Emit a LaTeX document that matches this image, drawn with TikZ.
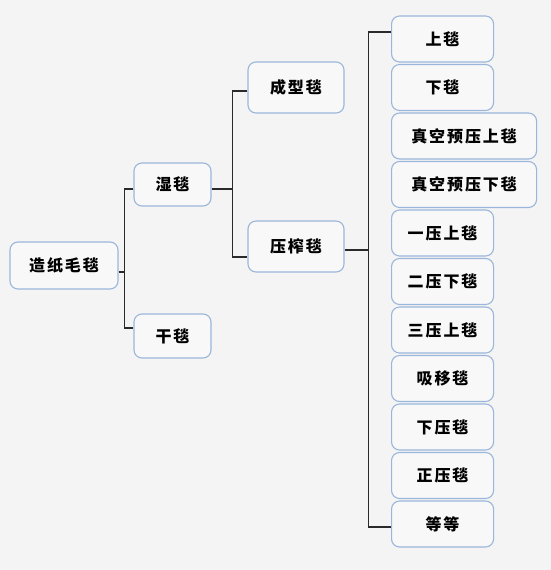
\documentclass[tikz,border=0pt]{standalone}
\usepackage{fontspec}
\newfontfamily\cjk[LetterSpace=12]{Noto Sans CJK SC}
\begin{document}
\begin{tikzpicture}[x=1pt,y=-1pt,
  box/.style={draw=boxline,fill=boxfill,line width=1.1pt,rounded corners=8pt,
    inner sep=0pt,font=\cjk\bfseries\fontsize{16pt}{18pt}\selectfont,text=black},
  conn/.style={draw=connline,line width=1.1pt}]
\definecolor{boxline}{HTML}{9AB7DB}
\definecolor{boxfill}{HTML}{F8F8F8}
\definecolor{connline}{HTML}{2A2A2A}
\definecolor{bgc}{HTML}{F4F4F4}
\fill[bgc] (0,0) rectangle (551,570);
\useasboundingbox (0,0) rectangle (551,570);
% level 0
\node[box,minimum width=108pt,minimum height=47pt] (root) at (64,265.5) {造纸毛毯};
% level 1
\node[box,minimum width=77pt,minimum height=43pt] (shi) at (172.5,184.5) {湿毯};
\node[box,minimum width=77pt,minimum height=44pt] (gan) at (172.5,336) {干毯};
% level 2
\node[box,minimum width=96pt,minimum height=51pt] (cx) at (296,87.5) {成型毯};
\node[box,minimum width=96pt,minimum height=51pt] (yz) at (296,246.5) {压榨毯};
% level 3
\foreach \i/\t/\w in {1/上毯/102,2/下毯/102,3/真空预压上毯/145,4/真空预压下毯/145,5/一压上毯/102,6/二压下毯/102,7/三压上毯/102,8/吸移毯/102,9/下压毯/102,10/正压毯/102,11/等等/102}{
  \node[box,minimum width=\w pt,minimum height=46pt,anchor=west] (r\i) at (391,{39+48.5*(\i-1)}) {\t};
}
% connectors
\draw[conn] ([yshift=-6.5pt]root.east) -- ++(6,0) coordinate (j1);
\draw[conn] ([yshift=-4.5pt]shi.west) -| (j1) |- ([yshift=8pt]gan.west);
\draw[conn] ([yshift=-4.5pt]shi.east) -- ++(21,0) coordinate (j2);
\draw[conn] ([yshift=-3.5pt]cx.west) -| (j2) |- ([yshift=-10.5pt]yz.west);
\draw[conn] ([yshift=-3.5pt]yz.east) -- ++(24,0) coordinate (j3);
\draw[conn] ([yshift=7pt]r1.west) -| (j3) |- ([yshift=-3pt]r11.west);
\end{tikzpicture}
\end{document}
